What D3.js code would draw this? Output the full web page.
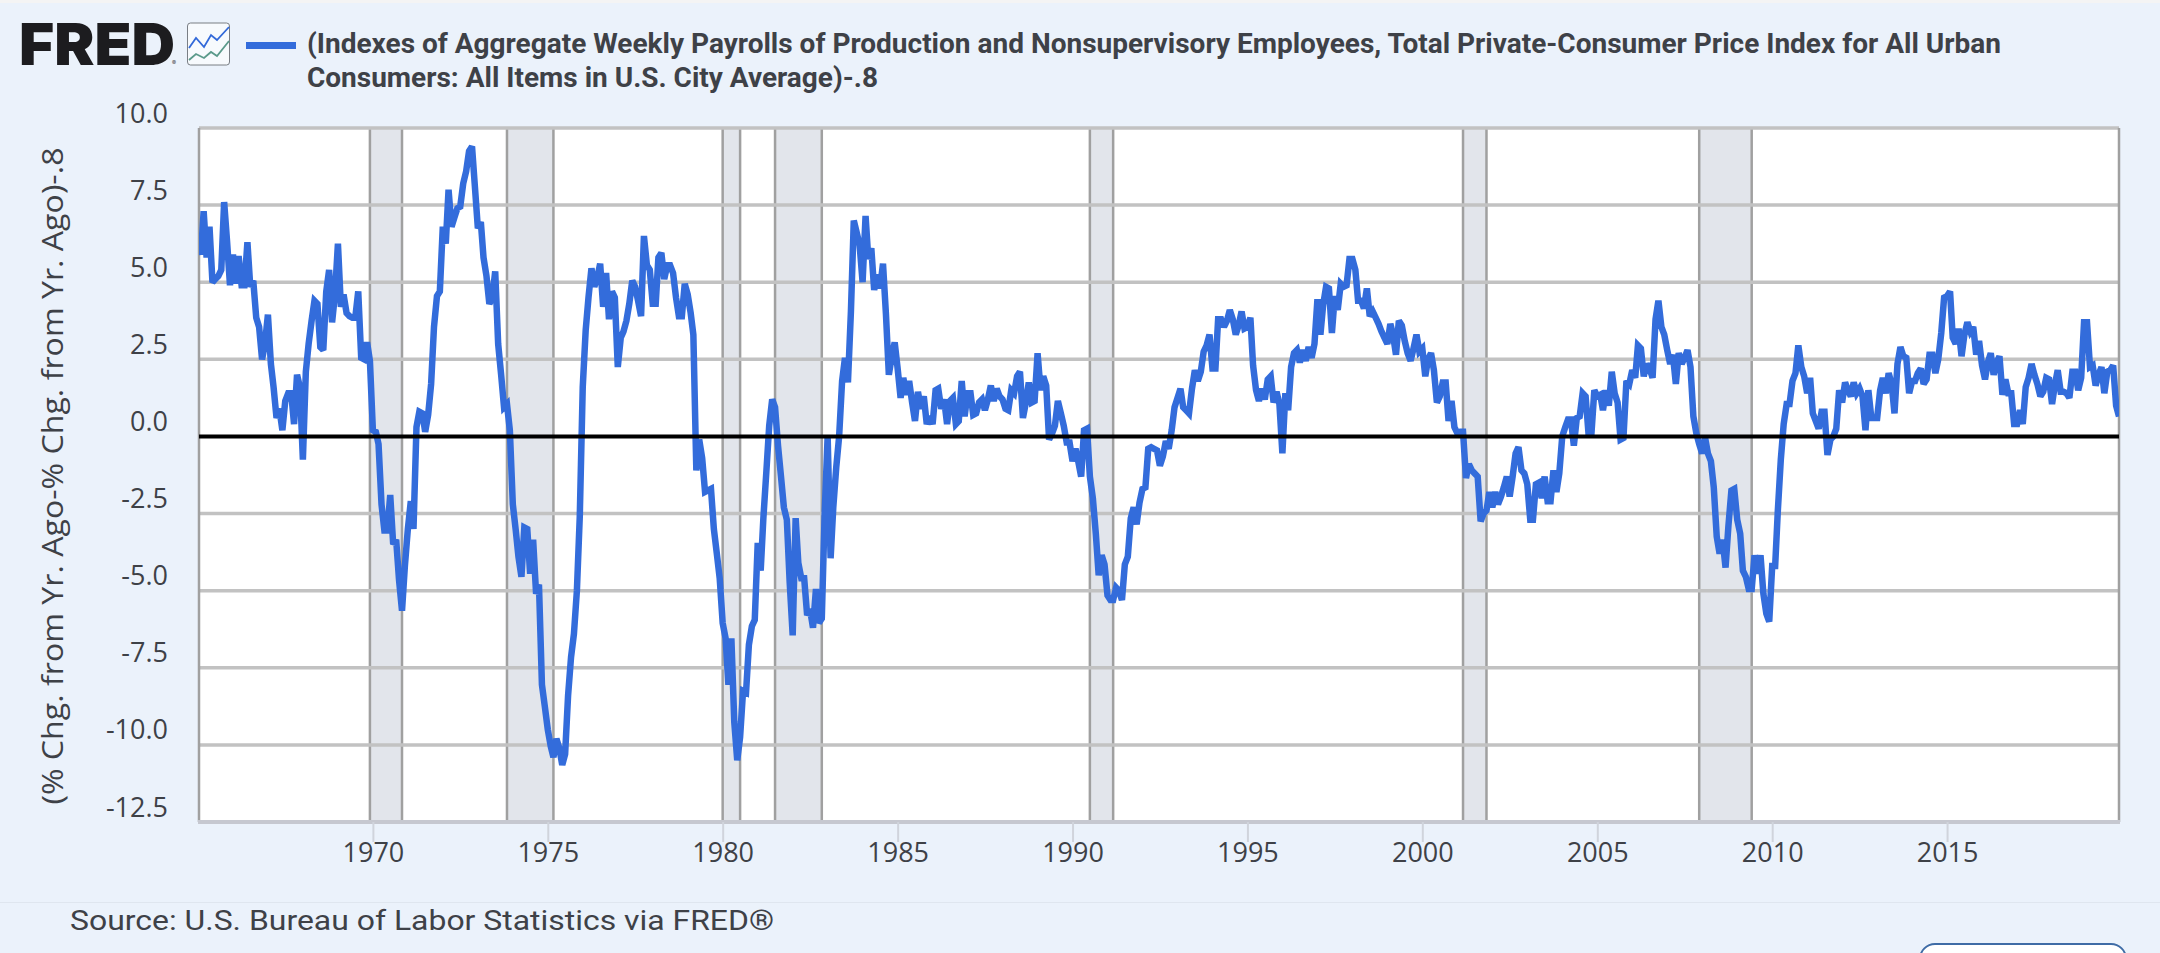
<!DOCTYPE html>
<html>
<head>
<meta charset="utf-8">
<script src="https://cdn.jsdelivr.net/npm/d3@7"></script>
<style>
  html, body { margin: 0; padding: 0; background: #ebf2fb; }
  svg { display: block; }
</style>
</head>
<body>
<svg id="chart" width="2160" height="953"></svg>
<script>
// Monthly readings, one row per year starting January 1965.
const seriesStart = [1965, 0];
const seriesValues = [
  6.2,5.9,7.3,5.8,6.8,5.0,5.1,5.2,5.4,7.6,6.3,4.9, // 1965
  5.9,4.95,5.85,4.9,4.9,6.3,4.85,5.05,3.85,3.55,2.5,3.0, // 1966
  3.95,2.35,1.6,0.6,0.9,0.2,1.15,1.4,1.4,0.4,2.0,1.6, // 1967
  -0.75,2.1,3.0,3.75,4.4,4.3,2.9,2.8,4.7,5.4,3.7,4.6, // 1968
  6.25,4.2,4.6,4.0,3.9,3.85,3.85,4.7,2.55,2.5,3.05,2.45, // 1969
  0.2,0.15,-0.25,-2.2,-3.05,-3.05,-1.9,-3.5,-3.35,-4.65,-5.65,-4.2, // 1970
  -3.0,-2.1,-3.0,0.3,0.8,0.75,0.15,0.7,1.7,3.55,4.55,4.7, // 1971
  6.8,6.25,8.0,6.8,7.1,7.4,7.45,8.2,8.6,9.25,9.4,8.1, // 1972
  6.75,6.95,5.8,5.2,4.3,4.5,5.35,3.0,2.0,0.95,1.05,0.2, // 1973
  -2.2,-3.05,-3.9,-4.55,-2.95,-3.0,-4.45,-3.35,-5.1,-4.8,-8.05,-8.75, // 1974
  -9.5,-10.05,-10.4,-9.8,-10.1,-10.65,-10.3,-8.4,-7.15,-6.4,-5.0,-2.6, // 1975
  1.6,3.45,4.5,5.45,4.85,5.15,5.6,4.2,5.3,3.8,4.7,4.5, // 1976
  2.25,3.2,3.4,3.75,4.3,5.05,4.85,4.4,3.9,6.5,5.55,5.4, // 1977
  4.3,4.3,5.8,5.95,5.1,5.55,5.55,5.3,4.5,3.9,3.9,4.95, // 1978
  4.6,4.0,3.3,-1.1,-0.1,-0.7,-1.8,-1.75,-1.7,-3.0,-3.8,-4.6, // 1979
  -6.05,-6.55,-8.05,-6.55,-9.25,-10.5,-9.75,-8.25,-8.3,-6.75,-6.15,-5.95, // 1980
  -3.45,-4.35,-2.65,-1.15,0.35,1.2,0.95,-0.3,-1.3,-2.3,-2.7,-4.75, // 1981
  -6.45,-2.65,-4.1,-4.6,-4.6,-5.8,-5.6,-6.2,-4.95,-6.05,-5.9,-2.5, // 1982
  0.0,-3.95,-2.3,-1.0,0.0,1.8,2.55,1.75,4.05,7.0,6.6,6.2, // 1983
  5.0,7.15,5.75,6.1,4.75,5.25,4.8,5.6,3.95,2.0,2.6,3.05, // 1984
  2.2,1.25,1.9,1.35,1.8,1.1,0.5,1.45,0.9,1.3,0.4,0.65, // 1985
  0.4,1.5,1.55,0.9,1.2,0.4,1.15,1.25,0.4,0.5,1.8,0.65, // 1986
  1.4,1.4,0.7,0.75,1.1,1.2,0.85,1.2,1.65,1.15,1.55,1.3, // 1987
  1.2,0.9,0.85,1.5,1.4,1.95,2.1,0.6,1.1,1.75,1.1,1.15, // 1988
  2.7,1.5,1.95,1.65,-0.1,0.1,0.35,1.15,0.75,0.35,-0.2,-0.2, // 1989
  -0.8,-0.4,-0.8,-1.3,0.2,0.25,-1.3,-2.0,-3.15,-4.5,-3.85,-4.15, // 1990
  -5.15,-5.3,-5.3,-4.9,-5.0,-5.3,-4.15,-3.9,-2.65,-2.3,-2.85,-2.15, // 1991
  -1.7,-1.65,-0.4,-0.35,-0.4,-0.45,-0.95,-0.65,-0.15,-0.4,0.2,0.95, // 1992
  1.25,1.55,0.95,0.85,0.75,1.55,2.15,1.8,2.1,2.75,2.95,3.3, // 1993
  2.2,2.2,3.8,3.8,3.55,3.75,4.1,3.8,3.3,3.6,4.05,3.5, // 1994
  3.55,3.85,2.3,1.5,1.15,1.55,1.2,1.85,1.95,1.1,1.45,1.05, // 1995
  -0.55,1.4,0.85,2.25,2.7,2.8,2.4,2.8,2.45,2.9,2.55,3.0, // 1996
  4.45,3.3,4.25,4.85,4.8,3.35,4.55,4.1,4.95,4.85,4.9,5.75, // 1997
  5.75,5.4,4.4,4.4,4.15,4.8,3.9,4.05,3.85,3.65,3.4,3.2, // 1998
  3.0,3.65,3.3,2.65,3.75,3.6,3.1,2.7,2.45,2.85,3.3,2.75, // 1999
  2.85,1.95,2.5,2.7,2.15,1.1,1.3,1.75,1.75,0.5,1.15,0.3, // 2000
  0.1,0.15,0.15,-1.35,-0.9,-1.1,-1.2,-1.3,-2.75,-2.5,-2.4,-1.8, // 2001
  -2.3,-1.8,-2.2,-1.95,-1.65,-1.3,-1.95,-1.3,-0.55,-0.35,-1.1,-1.2, // 2002
  -1.55,-2.7,-2.7,-1.55,-1.5,-2.0,-1.3,-2.1,-2.1,-1.1,-1.8,-1.2, // 2003
  0.0,0.3,0.55,0.55,-0.3,0.6,0.65,1.4,1.3,0.1,0.1,1.5, // 2004
  1.3,1.35,0.85,1.5,1.0,2.1,1.4,1.1,-0.1,-0.05,1.8,1.7, // 2005
  2.15,1.9,2.95,2.85,1.95,2.35,2.2,1.9,3.8,4.4,3.55,3.3, // 2006
  2.8,2.35,2.65,1.7,2.7,2.35,2.55,2.8,2.25,0.65,0.1,-0.25, // 2007
  -0.55,-0.05,-0.55,-0.8,-1.65,-3.25,-3.8,-3.35,-4.25,-2.9,-1.75,-1.7, // 2008
  -2.7,-3.15,-4.35,-4.55,-4.95,-4.95,-3.85,-4.45,-3.85,-5.1,-5.75,-6.0, // 2009
  -4.2,-4.2,-2.4,-0.75,0.4,1.05,1.05,1.8,2.05,2.95,2.25,1.95, // 2010
  1.4,1.9,0.75,0.5,0.25,0.8,0.8,-0.6,-0.1,0.0,0.25,1.5, // 2011
  1.1,1.75,1.5,1.3,1.75,1.4,1.55,1.3,0.2,1.5,0.6,0.6, // 2012
  0.6,1.5,1.9,1.4,2.05,1.7,0.75,2.35,2.9,2.6,2.55,1.4, // 2013
  1.8,1.8,2.05,2.2,1.7,1.85,2.65,2.65,2.05,2.5,3.35,4.5, // 2014
  4.55,4.7,3.2,3.0,3.5,2.6,3.3,3.7,3.4,3.55,2.65,3.1, // 2015
  2.3,1.85,2.4,2.7,2.0,2.4,2.6,1.35,1.85,1.4,1.4,0.4, // 2016
  0.4,0.85,0.4,1.6,1.9,2.35,2.0,1.7,1.3,1.45,1.9,1.85, // 2017
  1.05,1.7,2.15,1.45,1.45,1.4,1.25,2.1,2.1,1.5,1.9,3.7, // 2018
  3.7,2.25,2.3,1.65,2.0,2.25,1.4,2.1,2.15,2.3,1.0,0.65  // 2019
];

// NBER recession spans as [year, month] pairs, months counted from zero.
const recessionStarts = [[1969,11],[1973,10],[1980,0],[1981,6],[1990,6],[2001,2],[2007,11]];
const recessionEnds   = [[1970,10],[1975,2],[1980,6],[1982,10],[1991,2],[2001,10],[2009,5]];

const xTickYears = [1970,1975,1980,1985,1990,1995,2000,2005,2010,2015];
const yTickValues = [10,7.5,5,2.5,0,-2.5,-5,-7.5,-10,-12.5];

const legendLines = [
  "(Indexes of Aggregate Weekly Payrolls of Production and Nonsupervisory Employees, Total Private-Consumer Price Index for All Urban",
  "Consumers: All Items in U.S. City Average)-.8"
];
const yAxisTitle = "(% Chg. from Yr. Ago-% Chg. from Yr. Ago)-.8";
const sourceText = "Source: U.S. Bureau of Labor Statistics via FRED®";

const ink = "#3e4147";
const lineBlue = "#336cdb";
const plot = { left: 199, right: 2119, top: 128, bottom: 822 };

const toDate = ([y, m]) => new Date(Date.UTC(y, m, 1));
const observations = seriesValues.map((v, i) => ({
  date: new Date(Date.UTC(seriesStart[0], seriesStart[1] + i, 1)),
  value: v
}));

const x = d3.scaleUtc()
  .domain(d3.extent(observations, d => d.date))
  .range([plot.left - 1, plot.right]);
const y = d3.scaleLinear().domain([-12.5, 10]).range([plot.bottom, plot.top]);

const svg = d3.select("#chart");

// Page furniture
svg.append("rect").attr("width", 2160).attr("height", 953).attr("fill", "#ebf2fb");
svg.append("rect").attr("width", 2160).attr("height", 3).attr("fill", "#f4f4f4");
svg.append("line").attr("x1", 0).attr("x2", 2160).attr("y1", 902.5).attr("y2", 902.5)
  .attr("stroke", "#dfe6ef").attr("stroke-width", 1);
svg.append("rect").attr("x", 1920).attr("y", 944).attr("width", 206).attr("height", 30).attr("rx", 15)
  .attr("fill", "#ffffff").attr("stroke", "#3f6ca6").attr("stroke-width", 2);

// Logo
const logo = svg.append("g");
logo.append("text").attr("x", 19).attr("y", 65)
  .attr("font-family", "Inter").attr("font-weight", 900).attr("font-size", 58)
  .attr("textLength", 156).attr("lengthAdjust", "spacingAndGlyphs")
  .attr("fill", "#1c1c1f").text("FRED");
logo.append("text").attr("x", 172).attr("y", 65)
  .attr("font-family", "Inter").attr("font-size", 6).attr("fill", "#444").text("®");
logo.append("rect").attr("x", 187.5).attr("y", 23).attr("width", 42).attr("height", 42).attr("rx", 3)
  .attr("fill", "#f7fafd").attr("stroke", "#5a5f66").attr("stroke-width", 0.8);
const iconLine = d3.line();
logo.append("path")
  .attr("d", iconLine([[189,48],[196,38],[204,47],[211,35],[217,40],[229,27]]))
  .attr("fill", "none").attr("stroke", "#3269d9").attr("stroke-width", 1.8);
logo.append("path")
  .attr("d", iconLine([[189,60],[196,54],[204,58],[211,52],[217,56],[229,41]]))
  .attr("fill", "none").attr("stroke", "#5b9a8b").attr("stroke-width", 1.8);

// Legend
svg.append("rect").attr("x", 246).attr("y", 42).attr("width", 50).attr("height", 7).attr("fill", lineBlue);
const legendWidths = [1694, 571];
svg.append("g").selectAll("text").data(legendLines).join("text")
  .attr("x", 307).attr("y", (d, i) => 53 + i * 34)
  .attr("font-family", "Roboto").attr("font-weight", 700).attr("font-size", 27.5)
  .attr("textLength", (d, i) => legendWidths[i]).attr("lengthAdjust", "spacingAndGlyphs")
  .attr("fill", ink).text(d => d);

// Plot background
svg.append("rect").attr("x", plot.left).attr("y", plot.top)
  .attr("width", plot.right - plot.left).attr("height", plot.bottom - plot.top).attr("fill", "#ffffff");

// Recession bands
const bands = svg.append("g").selectAll("g")
  .data(recessionStarts.map((s, i) => [toDate(s), toDate(recessionEnds[i])]))
  .join("g");
bands.append("rect")
  .attr("x", d => x(d[0])).attr("width", d => x(d[1]) - x(d[0]))
  .attr("y", plot.top).attr("height", plot.bottom - plot.top)
  .attr("fill", "#e2e5eb");
bands.selectAll("line").data(d => d).join("line")
  .attr("x1", d => x(d)).attr("x2", d => x(d))
  .attr("y1", plot.top).attr("y2", plot.bottom)
  .attr("stroke", "#a0a0a0").attr("stroke-width", 2.5);

// Horizontal grid
svg.append("g").selectAll("line").data(yTickValues.filter(v => v !== 0)).join("line")
  .attr("x1", plot.left).attr("x2", plot.right)
  .attr("y1", d => y(d)).attr("y2", d => y(d))
  .attr("stroke", "#c2c2c2").attr("stroke-width", 3.5);

// Plot side edges
svg.append("g").selectAll("line").data([plot.left, plot.right]).join("line")
  .attr("x1", d => d).attr("x2", d => d)
  .attr("y1", plot.top).attr("y2", plot.bottom)
  .attr("stroke", "#a0a0a0").attr("stroke-width", 2.5);

// Series
svg.append("clipPath").attr("id", "plot-clip").append("rect")
  .attr("x", plot.left).attr("y", plot.top)
  .attr("width", plot.right - plot.left).attr("height", plot.bottom - plot.top);
const seriesLine = d3.line().x(d => x(d.date)).y(d => y(d.value));
svg.append("path").datum(observations)
  .attr("clip-path", "url(#plot-clip)")
  .attr("d", seriesLine)
  .attr("fill", "none").attr("stroke", lineBlue).attr("stroke-width", 6.5)
  .attr("stroke-linejoin", "miter").attr("stroke-miterlimit", 2.5);

// Zero reference line
svg.append("line").attr("x1", plot.left).attr("x2", plot.right)
  .attr("y1", y(0)).attr("y2", y(0))
  .attr("stroke", "#000000").attr("stroke-width", 4);

// Y axis labels sit just above their grid lines
const yAxis = d3.axisLeft(y).tickValues(yTickValues).tickSize(0).tickPadding(0)
  .tickFormat(v => d3.format(".1f")(v).replace("\u2212", "-"));
const yAxisG = svg.append("g").attr("transform", "translate(168,-6)").call(yAxis);
yAxisG.select(".domain").remove();
yAxisG.selectAll("text")
  .attr("x", 0).attr("dy", 0)
  .attr("font-family", "Open Sans").attr("font-size", 27).attr("fill", ink);

// X axis
const xAxis = d3.axisBottom(x)
  .tickValues(xTickYears.map(yr => new Date(Date.UTC(yr, 0, 1))))
  .tickSize(20).tickPadding(1)
  .tickFormat(d3.utcFormat("%Y"));
const xAxisG = svg.append("g").attr("transform", `translate(0,${plot.bottom})`).call(xAxis);
xAxisG.select(".domain")
  .attr("d", `M${plot.left - 1},0H${plot.right + 1}`)
  .attr("stroke", "#c6c8d0").attr("stroke-width", 4);
xAxisG.selectAll(".tick line").attr("stroke", "#d0d4dc").attr("stroke-width", 2);
xAxisG.selectAll("text")
  .attr("font-family", "Open Sans").attr("font-size", 27).attr("fill", ink);

// Y axis title
svg.append("text")
  .attr("transform", "translate(63,476) rotate(-90)")
  .attr("text-anchor", "middle")
  .attr("font-family", "Open Sans").attr("font-size", 29)
  .attr("textLength", 657).attr("lengthAdjust", "spacingAndGlyphs")
  .attr("fill", ink).text(yAxisTitle);

// Source line
svg.append("text").attr("x", 70).attr("y", 930)
  .attr("font-family", "Roboto").attr("font-size", 28.5)
  .attr("textLength", 704).attr("lengthAdjust", "spacingAndGlyphs")
  .attr("fill", ink).text(sourceText);
</script>
</body>
</html>
